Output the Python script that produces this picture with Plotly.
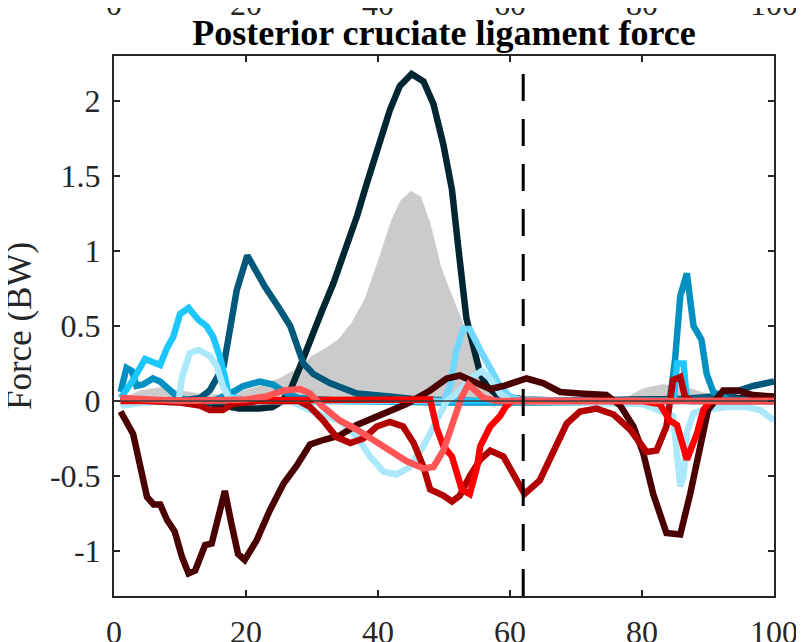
import plotly.graph_objects as go

SERIF = "Liberation Serif"
INK = "#262626"
PAGE_PAD = 8  # the html body margin that offsets the figure on the page

# gray band (upper envelope)
gray_x = [1, 2, 4, 7, 10, 14, 18, 22, 25, 28, 30, 32, 34, 36, 38, 40, 42, 43.5, 45, 46.5,
          48, 49.5, 50.5, 52, 53.5, 55, 56.5, 58, 60, 75, 78, 80, 83, 86, 89, 92, 95, 100]
gray_y = [0, 0.03, 0.07, 0.09, 0.07, 0.04, 0.05, 0.1, 0.15, 0.22, 0.3, 0.35, 0.41, 0.52, 0.68,
          0.93, 1.2, 1.34, 1.4, 1.36, 1.17, 0.9, 0.78, 0.62, 0.45, 0.25, 0.08, 0.02, 0.0, 0.0,
          0.03, 0.08, 0.11, 0.1, 0.06, 0.03, 0.04, 0.04]

navy_x = [1, 5, 10, 14, 16.5, 19, 22, 24, 25.5, 26.7, 28.2, 29.7, 31.5, 33.2, 35, 36.8, 38.3,
          39.8, 41.8, 43.3, 45.1, 46.9, 48.4, 49.9, 51.2, 52.2, 53.4, 54.7, 55.5, 56.5, 58, 62,
          70, 80, 90, 100]
navy_y = [0, 0, 0, -0.01, -0.03, -0.05, -0.05, -0.04, 0.0, 0.07, 0.23, 0.41, 0.6, 0.78, 1.0,
          1.23, 1.45, 1.67, 1.94, 2.1, 2.18, 2.13, 1.98, 1.71, 1.41, 1.01, 0.55, 0.32, 0.18,
          0.1, 0.04, 0.01, 0.0, 0.01, 0.01, 0.02]

teal_x = [1, 5, 10, 13, 14.5, 16.6, 17.6, 18.6, 20.2, 22.9, 25, 26.7, 28.7, 30.2, 32.7, 36.8,
          41.8, 46, 55, 70, 85, 90.8, 94, 96.8, 100]
teal_y = [0.0, 0.0, 0.0, 0.02, 0.07, 0.23, 0.52, 0.74, 0.97, 0.76, 0.62, 0.5, 0.25, 0.18,
          0.12, 0.05, 0.03, 0.01, 0.0, 0.0, 0.01, 0.03, 0.06, 0.1, 0.13]

blue_x = [1, 1.9, 2.7, 3.4, 4.4, 5.9, 7, 8.7, 9.8, 12, 15, 17.6, 19.6, 22.1, 24.1, 26.2, 28,
          35, 50, 70, 80, 84.2, 85, 85.8, 86.8, 87.8, 89, 89.8, 90.8, 93, 100]
blue_y = [0.06, 0.22, 0.2, 0.1, 0.11, 0.15, 0.13, 0.06, 0.02, 0.0, 0.0, 0.05, 0.1, 0.13, 0.11,
          0.05, 0.02, 0.0, -0.01, -0.01, 0.0, 0.0, 0.27, 0.7, 0.85, 0.5, 0.41, 0.18, 0.06, 0.01,
          0.0]

cyan_x = [1, 2.9, 4.7, 5.7, 7, 8, 9, 10, 11.3, 12.8, 14, 15, 16, 16.8, 17.4, 20, 30, 50, 70,
          84.8, 85.3, 86.3, 86.8, 90, 100]
cyan_y = [0.02, 0.14, 0.28, 0.26, 0.24, 0.35, 0.43, 0.58, 0.62, 0.54, 0.5, 0.43, 0.3, 0.16,
          0.03, 0.0, 0.0, 0.0, 0.0, 0.0, 0.25, 0.25, 0.0, 0.0, 0.0]

sky_x = [1, 20, 40, 50, 50.9, 51.9, 52.9, 53.9, 55.5, 57, 58.5, 60, 61.5, 70, 85, 100]
sky_y = [0, 0, 0, 0.0, 0.1, 0.34, 0.48, 0.48, 0.34, 0.21, 0.1, 0.03, 0.01, 0, 0, 0]

pale_x = [1, 5, 9.8, 10.3, 11.5, 12.8, 14.5, 15.6, 16.5, 17.4, 20, 26.7, 29.7, 31.7, 34.2,
          36.8, 38.8, 40.8, 42.8, 44.8, 46.9, 48.9, 50.4, 52, 54, 55.7, 57, 58.5, 60, 70, 80,
          84.7, 85.8, 86.3, 86.8, 87.8, 89.5, 92.8, 95.8, 97.9, 100]
pale_y = [-0.03, -0.01, 0.0, 0.16, 0.32, 0.34, 0.3, 0.23, 0.1, 0.02, 0.0, 0.0, -0.06, -0.1,
          -0.13, -0.24, -0.37, -0.47, -0.49, -0.44, -0.3, -0.13, 0.0, 0.05, 0.15, 0.2, 0.15,
          0.05, 0.0, -0.01, -0.02, -0.1, -0.57, -0.5, -0.21, -0.08, -0.06, -0.04, -0.04, -0.06,
          -0.13]

maroon_x = [1, 2.9, 3.9, 5, 6, 7, 8, 9.2, 10.3, 11.3, 12.3, 13.8, 14.8, 15.8, 16.8, 17.8,
            18.8, 19.8, 21.6, 23.6, 25.7, 27.7, 29.7, 31.7, 34.2, 36.8, 40.8, 44.3, 47.9, 50.4,
            52.4, 55, 57, 59, 61.5, 62.5, 65, 67.6, 70.6, 74.6, 76.7, 78.7, 80.2, 81.7, 83.7,
            85.8, 87.3, 88.8, 90, 92.3, 94.5, 96.8, 100]
maroon_y = [-0.07, -0.22, -0.42, -0.64, -0.69, -0.69, -0.79, -0.87, -1.04, -1.15, -1.13,
            -0.96, -0.95, -0.75, -0.6, -0.82, -1.02, -1.06, -0.93, -0.73, -0.55, -0.43, -0.29,
            -0.26, -0.23, -0.16, -0.08, -0.02, 0.07, 0.15, 0.17, 0.12, 0.08, 0.1, 0.14, 0.15,
            0.12, 0.06, 0.05, 0.04, -0.03, -0.17, -0.35, -0.62, -0.88, -0.89, -0.62, -0.3,
            -0.06, 0.07, 0.07, 0.04, 0.03]

dred_x = [1, 5, 10, 13, 14.5, 16.5, 18, 22, 28, 29.7, 31.7, 33.7, 35.8, 37.8, 39.8, 41.8,
          43.8, 45.4, 46.9, 47.9, 49.9, 51.2, 52.4, 53.9, 55.5, 57, 59, 60.5, 62.2, 64.5, 66.6,
          68.6, 70.6, 73.1, 75.7, 78.2, 80.7, 82.2, 83.7, 84.7, 85.8, 86.5, 87.5, 90, 100]
dred_y = [0.02, 0.0, -0.01, -0.03, -0.06, -0.06, -0.02, 0.0, 0.0, -0.04, -0.13, -0.24, -0.28,
          -0.25, -0.17, -0.14, -0.17, -0.28, -0.44, -0.59, -0.63, -0.67, -0.63, -0.5, -0.39,
          -0.33, -0.37, -0.48, -0.62, -0.53, -0.33, -0.15, -0.07, -0.05, -0.09, -0.19, -0.34,
          -0.33, -0.17, 0.14, 0.16, 0.03, 0.0, 0.0, 0.0]

red_x = [1, 10, 20, 30, 40, 47.9, 48.9, 49.9, 51.2, 52.7, 53.9, 55, 55.5, 57, 58.5, 59.3,
         60.3, 70, 80, 82.7, 84.2, 85.3, 86.8, 88.3, 89.3, 90.3, 100]
red_y = [0.0, 0.0, 0.0, 0.0, 0.0, 0.01, -0.18, -0.3, -0.37, -0.59, -0.62, -0.44, -0.3, -0.17,
         -0.1, -0.04, 0.0, 0.0, 0.0, -0.02, -0.13, -0.16, -0.39, -0.22, -0.06, 0.0, 0.0]

salmon_x = [1, 10, 20, 23, 25.7, 28.2, 29.7, 31.7, 34.2, 36.8, 39.3, 41.8, 44.3, 46.9, 48.4,
            49.9, 51.4, 52.7, 53.7, 54.7, 56, 58, 70, 100]
salmon_y = [0.02, 0.0, 0.01, 0.03, 0.07, 0.08, 0.05, -0.04, -0.13, -0.19, -0.26, -0.33, -0.4,
            -0.45, -0.44, -0.33, -0.15, 0.03, 0.11, 0.07, 0.02, 0.0, 0.0, 0.0]

event_x = 62
x_ticks = [0, 20, 40, 60, 80, 100]
y_ticks = [-1, -0.5, 0, 0.5, 1, 1.5, 2]
y_labels = ["-1", "-0.5", "0", "0.5", "1", "1.5", "2"]

series = [
    (navy_x, navy_y, "#002631"),
    (teal_x, teal_y, "#00587A"),
    (blue_x, blue_y, "#0091C2"),
    (cyan_x, cyan_y, "#1CC6FF"),
    (sky_x, sky_y, "#72D7FF"),
    (pale_x, pale_y, "#ABE8FB"),
    (maroon_x, maroon_y, "#4A0000"),
    (dred_x, dred_y, "#B30000"),
    (red_x, red_y, "#FF0000"),
    (salmon_x, salmon_y, "#FF5555"),
]

fig = go.Figure()
fig.add_trace(go.Scatter(
    x=gray_x, y=gray_y, mode="lines", fill="tozeroy",
    fillcolor="#CBCBCB", line=dict(color="#CBCBCB", width=0.5), showlegend=False,
))
for sx, sy, col in series:
    fig.add_trace(go.Scatter(
        x=sx, y=sy, mode="lines", line=dict(color=col, width=6.5),
        showlegend=False,
    ))
# empty trace so the top axis gets drawn
fig.add_trace(go.Scatter(x=x_ticks, y=[None] * len(x_ticks), xaxis="x2",
                         mode="lines", showlegend=False, hoverinfo="skip"))

# zero line and event marker
fig.add_shape(type="line", xref="paper", x0=0, x1=1, yref="y", y0=0, y1=0,
              line=dict(color="#3A3A3A", width=1.5), layer="above")
fig.add_shape(type="line", x0=event_x, x1=event_x, y0=-1.3, y1=2.2,
              line=dict(color="black", width=3, dash="27px,18px"), layer="above")

fig.update_layout(
    width=804, height=642,
    margin=dict(l=114 - PAGE_PAD, r=30 + PAGE_PAD, t=56 - PAGE_PAD, b=46 + PAGE_PAD,
                autoexpand=False),
    paper_bgcolor="white", plot_bgcolor="white",
    font=dict(family=SERIF, color=INK, size=32),
    title=dict(text="<b>Posterior cruciate ligament force</b>", x=0.5, xanchor="center",
               xref="paper", y=1 - (32 - PAGE_PAD) / 642, yanchor="middle", yref="container",
               font=dict(family=SERIF, size=36, color="black")),
    xaxis=dict(
        range=[0, 100], tickvals=x_ticks, showgrid=False, zeroline=False,
        showline=True, linecolor=INK, linewidth=2, mirror="ticks",
        ticks="inside", ticklen=6, tickwidth=1.5, tickcolor=INK, automargin=False,
        tickfont=dict(size=32, color=INK, family=SERIF), ticklabelstandoff=7,
    ),
    xaxis2=dict(
        range=[0, 100], tickvals=x_ticks, overlaying="x", side="top", automargin=False,
        showgrid=False, zeroline=False, showline=False, ticks="",
        tickfont=dict(size=32, color=INK, family=SERIF), ticklabelstandoff=34,
    ),
    yaxis=dict(
        range=[-1.3, 2.3], tickvals=y_ticks, ticktext=y_labels, showgrid=False,
        zeroline=False, showline=True, linecolor=INK, linewidth=2, mirror="ticks",
        ticks="inside", ticklen=6, tickwidth=1.5, tickcolor=INK, automargin=False,
        tickfont=dict(size=32, color=INK, family=SERIF), ticklabelstandoff=5,
    ),
    annotations=[dict(
        text="Force (BW)", textangle=-90, xref="paper", yref="paper",
        x=(19 - 114) / 660, y=0.5, xanchor="center", yanchor="middle",
        showarrow=False, font=dict(family=SERIF, size=35, color=INK),
    )],
)

fig.write_html("out.html")
